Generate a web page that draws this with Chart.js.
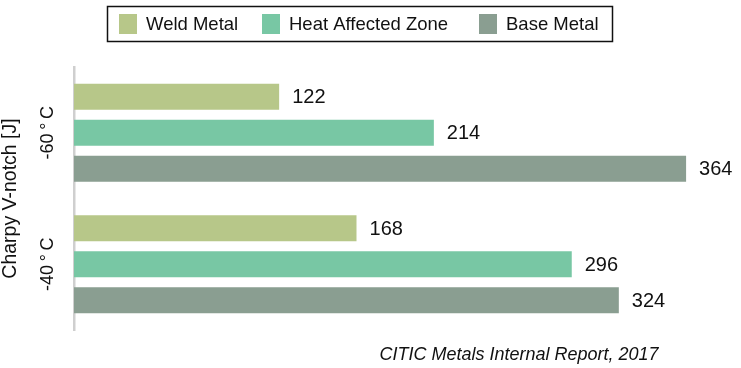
<!DOCTYPE html>
<html>
<head>
<meta charset="utf-8">
<script src="https://cdn.jsdelivr.net/npm/chart.js@4"></script>
<style>
  html, body { margin: 0; padding: 0; background: #fff; }
  canvas { display: block; }
</style>
</head>
<body>
<canvas id="myChart" width="741" height="368"></canvas>
<script>
// data
const temperaturas = ["-60\u2009°\u2009C", "-40\u2009°\u2009C"];
const weldMetal = [122, 168];
const heatAffected = [214, 296];
const baseMetal = [364, 324];
const seriesNames = ["Weld Metal", "Heat Affected Zone", "Base Metal"];
const seriesColors = ["#b7c789", "#78c7a4", "#8a9e91"];
const axisTitle = "Charpy V-notch [J]";
const sourceText = "CITIC Metals Internal Report, 2017";

const FONT = "'Liberation Sans', Arial, sans-serif";

// legend in a box at the top
const legendBox = {
  id: "legendBox",
  afterDraw(chart) {
    const ctx = chart.ctx;
    const xs = [119, 262, 479];
    ctx.save();
    ctx.strokeStyle = "#111";
    ctx.lineWidth = 1.5;
    ctx.strokeRect(107.5, 6.5, 505, 35);
    ctx.font = "18.5px " + FONT;
    ctx.textBaseline = "middle";
    ctx.textAlign = "left";
    chart.data.datasets.forEach((ds, i) => {
      ctx.fillStyle = ds.backgroundColor;
      ctx.fillRect(xs[i], 14, 18, 20);
      ctx.fillStyle = "#111";
      ctx.fillText(ds.label, xs[i] + 27, 24.5);
    });
    ctx.restore();
  },
};

// value labels, category labels and source note
const extraText = {
  id: "extraText",
  afterDatasetsDraw(chart) {
    const ctx = chart.ctx;
    ctx.save();
    ctx.font = "20px " + FONT;
    ctx.fillStyle = "#111";
    ctx.textAlign = "left";
    ctx.textBaseline = "middle";
    chart.data.datasets.forEach((ds, i) => {
      chart.getDatasetMeta(i).data.forEach((bar, j) => {
        ctx.fillText(String(ds.data[j]), bar.x + 13, bar.y + 1);
      });
    });

    const yScale = chart.scales.y;
    ctx.font = "18px " + FONT;
    ctx.textAlign = "center";
    temperaturas.forEach((t, i) => {
      const py = yScale.getPixelForTick(i);
      ctx.save();
      ctx.translate(48, py);
      ctx.rotate(-Math.PI / 2);
      ctx.fillText(t, 0, 0);
      ctx.restore();
    });

    ctx.font = "italic 18px " + FONT;
    ctx.textAlign = "center";
    ctx.fillText(sourceText, 519, 355);
    ctx.restore();
  },
};

const ctx = document.getElementById("myChart").getContext("2d");
new Chart(ctx, {
  type: "bar",
  data: {
    labels: temperaturas,
    datasets: [
      { label: seriesNames[0], data: weldMetal, backgroundColor: seriesColors[0] },
      { label: seriesNames[1], data: heatAffected, backgroundColor: seriesColors[1] },
      { label: seriesNames[2], data: baseMetal, backgroundColor: seriesColors[2] },
    ],
  },
  options: {
    indexAxis: "y",
    responsive: false,
    animation: false,
    devicePixelRatio: 1,
    barPercentage: 0.72,
    categoryPercentage: 0.82,
    layout: { padding: { top: 67, bottom: 38, left: 0, right: 28 } },
    plugins: {
      legend: { display: false },
      tooltip: { enabled: false },
    },
    scales: {
      x: {
        display: false,
        min: 0,
        max: 380,
      },
      y: {
        grid: { display: false },
        border: { display: true, color: "#cfcfcf", width: 2.5 },
        ticks: { display: false },
        title: {
          display: true,
          text: axisTitle,
          color: "#111",
          padding: 0,
          font: { family: FONT, size: 19.5, lineHeight: 1.05 },
        },
        afterFit: function (scale) {
          scale.width = 74;
        },
      },
    },
  },
  plugins: [legendBox, extraText],
});
</script>
</body>
</html>
